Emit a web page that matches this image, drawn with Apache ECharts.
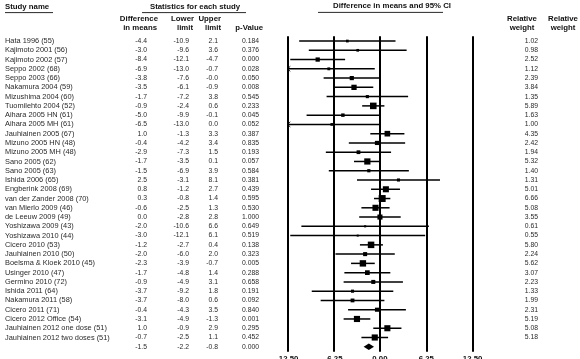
<!DOCTYPE html>
<html>
<head>
<meta charset="utf-8">
<script src="https://cdn.jsdelivr.net/npm/echarts@6/dist/echarts.min.js"></script>
<style>html,body{margin:0;padding:0;background:#fff}#c{width:580px;height:359px}</style>
</head>
<body>
<div id="c"></div>
<script>
const studyNames = [
  'Hata 1996 (55)', 'Kajimoto 2001 (56)', 'Kajimoto 2002 (57)', 'Seppo 2002 (68)', 'Seppo 2003 (66)',
  'Nakamura 2004 (59)', 'Mizushima 2004 (60)', 'Tuomilehto 2004 (52)', 'Aihara 2005 HN (61)', 'Aihara 2005 MH (61)',
  'Jauhiainen 2005 (67)', 'Mizuno 2005 HN (48)', 'Mizuno 2005 MH (48)', 'Sano 2005 (62)', 'Sano 2005 (63)',
  'Ishida 2006 (65)', 'Engberink 2008 (69)', 'van der Zander 2008 (70)', 'van Mierlo 2009 (46)', 'de Leeuw 2009 (49)',
  'Yoshizawa 2009 (43)', 'Yoshizawa 2010 (44)', 'Cicero 2010 (53)', 'Jauhiainen 2010 (50)', 'Boelsma & Kloek 2010 (45)',
  'Usinger 2010 (47)', 'Germino 2010 (72)', 'Ishida 2011 (64)', 'Nakamura 2011 (58)', 'Cicero 2011 (71)',
  'Cicero 2012 Office (54)', 'Jauhiainen 2012 one dose (51)', 'Jauhiainen 2012 two doses (51)'
];
const diffMeans = [-4.4, -3.0, -8.4, -6.9, -3.8, -3.5, -1.7, -0.9, -5.0, -6.5, 1.0, -0.4, -2.9, -1.7, -1.5,
  2.5, 0.8, 0.3, -0.6, 0.0, -2.0, -3.0, -1.2, -2.0, -2.3, -1.7, -0.9, -3.7, -3.7, -0.4, -3.1, 1.0, -0.7];
const lowerLimits = [-10.9, -9.6, -12.1, -13.0, -7.6, -6.1, -7.2, -2.4, -9.9, -13.0, -1.3, -4.2, -7.3, -3.5, -6.9,
  -3.1, -1.2, -0.8, -2.5, -2.8, -10.6, -12.1, -2.7, -6.0, -3.9, -4.8, -4.9, -9.2, -8.0, -4.3, -4.9, -0.9, -2.5];
const upperLimits = [2.1, 3.6, -4.7, -0.7, -0.01, -0.9, 3.8, 0.6, -0.1, 0.0, 3.3, 3.4, 1.5, 0.1, 3.9,
  8.1, 2.7, 1.4, 1.3, 2.8, 6.6, 6.1, 0.4, 2.0, -0.7, 1.4, 3.1, 1.8, 0.6, 3.5, -1.3, 2.9, 1.1];
const pValues = [0.184, 0.376, 0.000, 0.028, 0.050, 0.008, 0.545, 0.233, 0.045, 0.052, 0.387, 0.835, 0.193, 0.057, 0.584,
  0.381, 0.439, 0.595, 0.530, 1.000, 0.649, 0.519, 0.138, 0.323, 0.005, 0.288, 0.658, 0.191, 0.092, 0.840, 0.001, 0.295, 0.452];
const relWeights = [1.02, 0.98, 2.52, 1.12, 2.39, 3.84, 1.35, 5.89, 1.63, 1.00, 4.35, 2.42, 1.94, 5.32, 1.40,
  1.31, 5.01, 6.66, 5.08, 3.55, 0.61, 0.55, 5.80, 2.24, 5.62, 3.07, 2.23, 1.33, 1.99, 2.31, 5.19, 5.08, 5.18];
const summaryValues = [-1.5, -2.2, -0.8, 0.000]; // diff, lower, upper, p
const xTicks = [-12.5, -6.25, 0, 6.25, 12.5];

const X_MIN = xTicks[0], X_MAX = xTicks[xTicks.length - 1];
const nRows = studyNames.length + 1;
const rowCats = Array.from({length: nRows}, (_, i) => String(i));
const GRID_TOP = 36.4, GRID_H = 315.0;
const FONT = '"Liberation Sans", Arial, sans-serif';
const TXT = '#2a2a2a';

const forestData = studyNames.map((_, i) => [i, diffMeans[i], lowerLimits[i], upperLimits[i], relWeights[i]]);
const summaryData = [[studyNames.length, summaryValues[0], summaryValues[1], summaryValues[2]]];
const textData = rowCats.map((_, i) => [0, i]);

function fmt1(v) { const s = v.toFixed(1); return (v < 0 && s === '0.0') ? '-0.0' : s; }

function renderForest(params, api) {
  const row = api.value(0);
  const m = api.value(1), lo = api.value(2), hi = api.value(3), w = api.value(4);
  const lc = Math.max(lo, X_MIN), hc = Math.min(hi, X_MAX);
  const p0 = api.coord([lc, row]), p1 = api.coord([hc, row]), pm = api.coord([m, row]);
  const ch = [{type: 'line', shape: {x1: p0[0], y1: p0[1], x2: p1[0], y2: p1[1]}, style: {stroke: '#000', lineWidth: 1.5}}];
  if (lo < X_MIN) ch.push({type: 'polyline', shape: {points: [[p0[0] + 3, p0[1] - 2.6], [p0[0] + 0.3, p0[1]], [p0[0] + 3, p0[1] + 2.6]]}, style: {stroke: '#000', fill: null, lineWidth: 0.9}});
  const s = 2.7 * Math.sqrt(w);
  ch.push({type: 'rect', shape: {x: pm[0] - s / 2, y: pm[1] - s / 2, width: s, height: s}, style: {fill: '#000'}});
  return {type: 'group', children: ch};
}
function renderSummary(params, api) {
  const row = api.value(0);
  const pm = api.coord([api.value(1), row]), pl = api.coord([api.value(2), row]), ph = api.coord([api.value(3), row]);
  const h = 3.3;
  return {type: 'polygon', shape: {points: [[pl[0], pm[1]], [pm[0], pm[1] - h], [ph[0], pm[1]], [pm[0], pm[1] + h]]}, style: {fill: '#000'}};
}
function txt(text, x, y, align, size) {
  return {type: 'text', style: {text: text, x: x, y: y, align: align, verticalAlign: 'middle', fontSize: size, fontFamily: FONT, fill: TXT}};
}
function renderText(params, api) {
  const i = params.dataIndex;
  const y = api.coord([0, i])[1];
  const ch = [];
  const cx = v => api.coord([v, i])[0];
  if (i < studyNames.length) {
    ch.push(txt(studyNames[i], cx(5), y, 'left', 7.4));
    ch.push(txt(fmt1(diffMeans[i]), cx(147), y, 'right', 6.8));
    ch.push(txt(fmt1(lowerLimits[i]), cx(189), y, 'right', 6.8));
    ch.push(txt(fmt1(upperLimits[i]), cx(218), y, 'right', 6.8));
    ch.push(txt(pValues[i].toFixed(3), cx(259), y, 'right', 6.8));
    ch.push(txt(relWeights[i].toFixed(2), cx(538), y, 'right', 6.8));
  } else {
    ch.push(txt(fmt1(summaryValues[0]), cx(147), y, 'right', 6.8));
    ch.push(txt(fmt1(summaryValues[1]), cx(189), y, 'right', 6.8));
    ch.push(txt(fmt1(summaryValues[2]), cx(218), y, 'right', 6.8));
    ch.push(txt(summaryValues[3].toFixed(3), cx(259), y, 'right', 6.8));
  }
  return {type: 'group', children: ch};
}

const hdr = (text, x, y, align) => ({type: 'text', silent: true,
  style: {text: text, x: x, y: y, align: align, verticalAlign: 'middle', fontSize: 7.8, fontWeight: 'bold', fontFamily: FONT, fill: '#111'}});
const uline = (x1, x2, y) => ({type: 'line', silent: true, shape: {x1: x1, y1: y, x2: x2, y2: y}, style: {stroke: '#111', lineWidth: 0.9}});

const chart = echarts.init(document.getElementById('c'), null, {renderer: 'canvas'});
chart.setOption({
  animation: false,
  grid: [
    {left: 287.3, right: 107.4, top: GRID_TOP, height: GRID_H, containLabel: false, outerBoundsMode: 'none'},
    {left: 0, right: 0, top: GRID_TOP, height: GRID_H, containLabel: false, outerBoundsMode: 'none'}
  ],
  xAxis: [
    {gridIndex: 0, type: 'value', min: X_MIN, max: X_MAX, interval: 6.25,
      axisLine: {show: false}, axisTick: {show: false},
      splitLine: {show: true, lineStyle: {color: '#000', width: 2, type: 'solid'}},
      axisLabel: {margin: 3, fontSize: 7.8, fontWeight: 'bold', fontFamily: FONT, color: '#111', formatter: v => v.toFixed(2)}},
    {gridIndex: 1, type: 'value', min: 0, max: 580, show: false}
  ],
  yAxis: [
    {gridIndex: 0, type: 'category', data: rowCats, inverse: true, show: false},
    {gridIndex: 1, type: 'category', data: rowCats, inverse: true, show: false}
  ],
  series: [
    {type: 'custom', xAxisIndex: 0, yAxisIndex: 0, clip: false, renderItem: renderForest, data: forestData,
      encode: {x: [1, 2, 3], y: 0},
      markLine: {silent: true, symbol: 'none', label: {show: false}, animation: false,
        lineStyle: {color: '#000', width: 2, type: 'solid'},
        data: xTicks.map(v => ({xAxis: v}))}},
    {type: 'custom', xAxisIndex: 0, yAxisIndex: 0, clip: false, renderItem: renderSummary, data: summaryData,
      encode: {x: [1, 2, 3], y: 0}},
    {type: 'custom', xAxisIndex: 1, yAxisIndex: 1, clip: false, renderItem: renderText, data: textData,
      encode: {x: 0, y: 1}}
  ],
  graphic: [
    hdr('Study name', 5, 6.5, 'left'), uline(5, 53, 12.6),
    hdr('Statistics for each study', 195, 6.5, 'center'), uline(142, 246, 12.6),
    hdr('Difference in means and 95% CI', 392, 6, 'center'), uline(318, 443, 12.4),
    hdr('Difference', 158, 19, 'right'), hdr('in means', 157, 27.5, 'right'),
    hdr('Lower', 194, 19, 'right'), hdr('limit', 193, 27.5, 'right'),
    hdr('Upper', 221, 19, 'right'), hdr('limit', 221, 27.5, 'right'),
    hdr('p-Value', 263, 27.5, 'right'),
    hdr('Relative', 522, 19, 'center'), hdr('weight', 522, 27.5, 'center'),
    hdr('Relative', 563, 19, 'center'), hdr('weight', 563, 27.5, 'center')
  ]
});
</script>
</body>
</html>
